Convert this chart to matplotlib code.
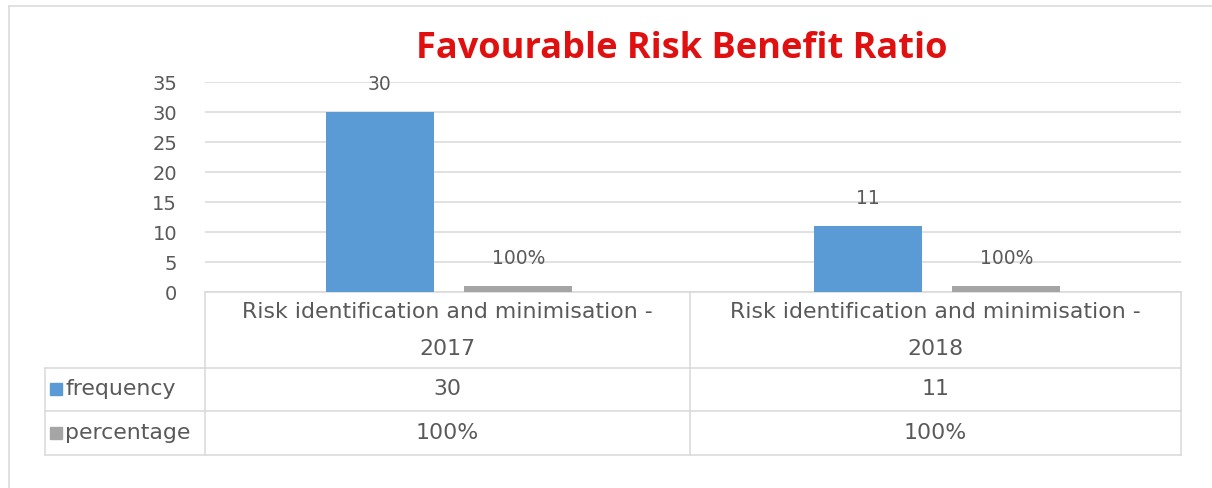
import matplotlib.pyplot as plt
from matplotlib.lines import Line2D
from matplotlib.patches import Rectangle

# data
categories = ["Risk identification and minimisation -\n2017",
              "Risk identification and minimisation -\n2018"]
frequency = [30, 11]
percentage = [1, 1]          # 100% drawn as 1 on the count axis
percentage_labels = ["100%", "100%"]
series_names = ["frequency", "percentage"]

blue = "#5b9bd5"
grey = "#a5a5a5"
text_col = "#595959"
line_col = "#d9d9d9"

plt.rcParams["font.family"] = ["DejaVu Sans"]

W, H = 1212, 488
fig = plt.figure(figsize=(W / 100, H / 100), dpi=100)


def fx(x):
    return x / W


def fy(y):
    return 1 - y / H


# plot area
left, right, top, base = 205, 1181, 82, 292
ax = fig.add_axes([fx(left), fy(base), fx(right - left), (base - top) / H])

x = range(len(categories))
off = 0.142
w = 0.222
b1 = ax.bar([i - off for i in x], frequency, w, color=blue, zorder=3)
b2 = ax.bar([i + off for i in x], percentage, w, color=grey, zorder=3)
ax.bar_label(b1, labels=[str(v) for v in frequency], padding=13,
             fontsize=13.5, color=text_col)
ax.bar_label(b2, labels=percentage_labels, padding=13,
             fontsize=13.5, color=text_col)

ax.set_xlim(-0.5, len(categories) - 0.5)
ax.set_ylim(0, 35)
ax.set_yticks(range(0, 36, 5))
ax.tick_params(axis="y", length=0, pad=20, labelsize=14, labelcolor=text_col)
ax.set_xticks([])
ax.grid(axis="y", color=line_col, linewidth=1.1, zorder=0)
for s in ["top", "right", "left"]:
    ax.spines[s].set_visible(False)
ax.spines["bottom"].set_color(line_col)
ax.spines["bottom"].set_linewidth(1.1)

fig.text(fx(682), fy(49), "Favourable Risk Benefit Ratio", ha="center",
         va="center", fontsize=26, fontweight="bold", color="#e01010",
         family="Open Sans")

# data table below the axis
col_edges = [45, 205, 690, 1181]
fs = 15.8


def hline(y, x0, x1):
    fig.add_artist(Line2D([fx(x0), fx(x1)], [fy(y), fy(y)],
                          color=line_col, linewidth=1.1))


def vline(xp, y0, y1):
    fig.add_artist(Line2D([fx(xp), fx(xp)], [fy(y0), fy(y1)],
                          color=line_col, linewidth=1.1))


hline(368, 45, 1181)
hline(411, 45, 1181)
hline(455, 45, 1181)
vline(45, 368, 455)
for xp in col_edges[1:]:
    vline(xp, 292, 455)

for i, cat in enumerate(categories):
    cx = (col_edges[i + 1] + col_edges[i + 2]) / 2
    line1, line2 = cat.split("\n")
    fig.text(fx(cx), fy(312), line1, ha="center", va="center",
             fontsize=fs, color=text_col)
    fig.text(fx(cx), fy(349), line2, ha="center", va="center",
             fontsize=fs, color=text_col)
    fig.text(fx(cx), fy(389), str(frequency[i]), ha="center", va="center",
             fontsize=fs, color=text_col)
    fig.text(fx(cx), fy(433), percentage_labels[i], ha="center",
             va="center", fontsize=fs, color=text_col)

for name, col, yc in zip(series_names, [blue, grey], [389, 433]):
    fig.add_artist(Rectangle((fx(50), fy(yc + 6)), fx(12), 12 / H,
                             color=col))
    fig.text(fx(65), fy(yc), name, ha="left", va="center",
             fontsize=fs, color=text_col)

# chart frame
hline(6, 9, 1212)
vline(9, 6, 488)

fig.savefig("out.png", dpi=100, facecolor="white")
